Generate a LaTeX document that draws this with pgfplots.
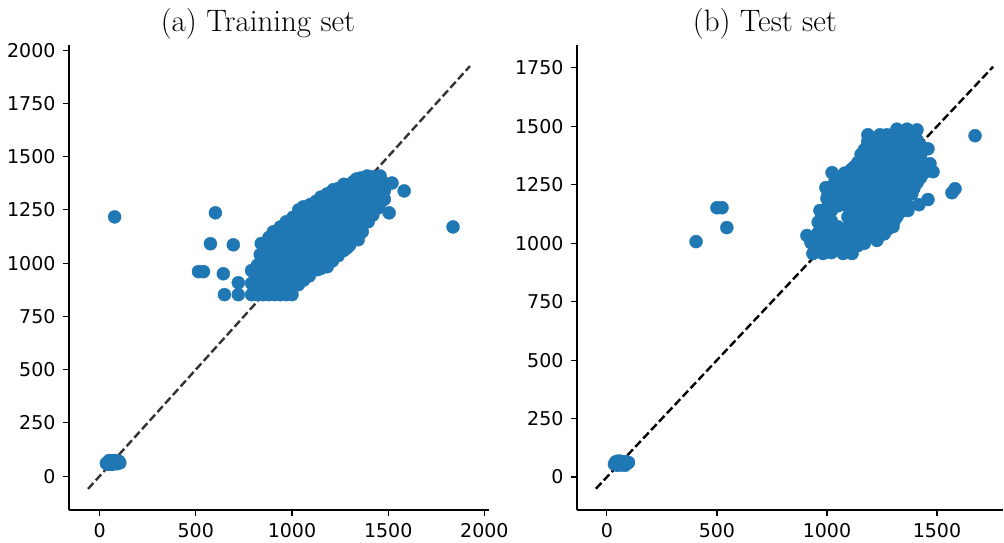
\documentclass[border=0pt]{standalone}
\usepackage{pgfplots}
\pgfplotsset{compat=1.18}
\usepackage{pgfplotstable}
\usepackage{fontspec}
\newfontfamily\dejavu{DejaVu Sans}
\definecolor{tabblue}{HTML}{1F77B4}
\definecolor{dgray}{HTML}{333333}

\pgfplotstableread{
x y
78 1217
602 1236
576 1091
695 1086
514 960
540 960
643 950
649 852
721 852
721 908
790 852
790 905
790 965
820 852
820 900
820 945
820 990
835 1040
850 852
850 895
850 940
850 985
850 1030
840 1092
880 852
880 900
880 945
880 990
880 1035
880 1080
880 1120
910 852
910 900
910 945
910 990
910 1035
910 1080
910 1125
903 1147
940 852
940 900
940 945
940 990
940 1035
940 1080
940 1125
940 1170
970 852
970 900
970 945
970 990
970 1035
970 1080
970 1125
970 1170
970 1194
1000 852
1000 900
1000 945
1000 990
1000 1035
1000 1080
1000 1125
1000 1170
1005 1215
1033 899
1030 945
1030 990
1030 1035
1030 1080
1030 1125
1030 1170
1030 1215
1035 1250
1060 920
1060 965
1060 1010
1060 1055
1060 1100
1060 1145
1060 1190
1060 1235
1059 1264
1090 940
1090 985
1090 1030
1090 1075
1090 1120
1090 1165
1090 1210
1090 1255
1095 1275
1131 969
1120 1005
1120 1050
1120 1095
1120 1140
1120 1185
1120 1230
1120 1275
1125 1290
1150 975
1150 1025
1150 1070
1150 1115
1150 1160
1150 1205
1150 1250
1150 1295
1150 1310
1183 983
1180 1040
1180 1090
1180 1135
1180 1180
1180 1225
1180 1270
1180 1315
1183 1325
1210 1010
1210 1065
1210 1110
1210 1155
1210 1200
1210 1245
1210 1290
1210 1335
1215 1345
1240 1035
1240 1085
1240 1130
1240 1175
1240 1220
1240 1265
1240 1310
1240 1350
1287 1072
1270 1060
1270 1105
1270 1150
1270 1195
1270 1240
1270 1285
1270 1330
1270 1370
1300 1085
1300 1125
1300 1170
1300 1215
1300 1260
1300 1305
1300 1350
1318 1381
1344 1110
1330 1145
1330 1190
1330 1235
1330 1280
1330 1325
1330 1370
1335 1395
1365 1147
1360 1175
1360 1220
1360 1265
1360 1310
1360 1355
1360 1400
1396 1194
1390 1220
1390 1250
1390 1295
1390 1340
1390 1385
1391 1409
1420 1225
1420 1260
1420 1300
1420 1340
1420 1380
1420 1405
1450 1260
1458 1283
1450 1300
1450 1340
1450 1380
1458 1409
1480 1300
1480 1340
1480 1375
1505 1236
1520 1376
1583 1339
1837 1170
35 60
45 55
45 68
55 62
60 72
65 55
70 65
80 60
85 72
90 58
95 66
105 62
50 73
75 73
100 70
}\trainpts

\pgfplotstableread{
x y
405 1007
500 1152
523 1152
545 1067
909 1033
927 1003
936 956
982 956
1073 956
1114 956
960 1000
960 1045
960 1090
968 1140
990 1000
990 1045
990 1090
990 1135
1000 1191
995 1238
1020 960
1020 1005
1020 1050
1020 1095
1020 1140
1020 1185
1020 1230
1023 1302
1050 980
1050 1025
1050 1070
1050 1160
1050 1205
1050 1250
1050 1280
1080 1000
1080 1045
1080 1165
1080 1210
1080 1255
1080 1300
1110 1000
1110 1045
1110 1090
1110 1135
1110 1180
1110 1225
1110 1270
1110 1315
1140 990
1140 1035
1140 1080
1140 1125
1140 1170
1140 1215
1140 1260
1140 1305
1140 1345
1170 1000
1170 1045
1170 1090
1170 1135
1170 1180
1170 1225
1170 1270
1170 1315
1170 1360
1170 1400
1227 1012
1200 1055
1200 1100
1200 1145
1200 1190
1200 1235
1200 1280
1200 1325
1200 1370
1200 1410
1230 1055
1230 1100
1230 1145
1230 1190
1230 1235
1230 1280
1230 1325
1230 1370
1230 1415
1260 1040
1260 1085
1260 1130
1260 1175
1260 1220
1260 1265
1260 1310
1260 1355
1260 1400
1260 1430
1300 1071
1290 1115
1290 1160
1290 1205
1290 1250
1290 1295
1290 1340
1290 1385
1290 1430
1318 1114
1320 1160
1320 1205
1320 1250
1320 1295
1320 1340
1320 1385
1320 1430
1368 1140
1350 1185
1350 1230
1350 1275
1350 1320
1350 1365
1350 1410
1350 1445
1386 1212
1380 1260
1380 1305
1380 1350
1380 1395
1380 1440
1418 1165
1410 1260
1410 1305
1410 1350
1410 1395
1410 1440
1459 1187
1440 1300
1468 1340
1482 1306
1459 1404
1186 1464
1241 1464
1273 1464
1318 1488
1364 1488
1409 1485
1568 1216
1582 1233
1673 1460
975 978
975 1023
975 1068
975 1113
1005 978
1005 1023
1005 1068
1005 1113
1005 1158
1005 1210
1035 990
1035 1035
1035 1170
1035 1215
1035 1260
1065 978
1065 1020
1065 1185
1065 1230
1065 1275
1095 978
1095 1023
1095 1068
1095 1113
1095 1158
1095 1203
1095 1248
1095 1293
1125 1012
1125 1057
1125 1102
1125 1147
1125 1192
1125 1237
1125 1282
1125 1327
1155 1012
1155 1057
1155 1102
1155 1147
1155 1192
1155 1237
1155 1282
1155 1327
1155 1380
1185 1030
1185 1075
1185 1120
1185 1165
1185 1210
1185 1255
1185 1300
1185 1345
1185 1390
1185 1435
1215 1035
1215 1078
1215 1123
1215 1168
1215 1213
1215 1258
1215 1303
1215 1348
1215 1393
1215 1440
1245 1060
1245 1105
1245 1150
1245 1195
1245 1240
1245 1285
1245 1330
1245 1375
1245 1420
1245 1450
1275 1060
1275 1105
1275 1150
1275 1195
1275 1240
1275 1285
1275 1330
1275 1375
1275 1420
1275 1450
1305 1095
1305 1138
1305 1183
1305 1228
1305 1273
1305 1318
1305 1363
1305 1408
1305 1455
1335 1135
1335 1183
1335 1228
1335 1273
1335 1318
1335 1363
1335 1408
1335 1455
1365 1165
1365 1240
1365 1285
1365 1330
1365 1375
1365 1420
1365 1465
1395 1235
1395 1283
1395 1328
1395 1373
1395 1418
1395 1460
1425 1280
1425 1328
1425 1373
1425 1418
34 55
40 65
48 50
55 60
60 68
65 52
72 62
78 56
85 66
90 58
98 62
50 68
82 50
}\testpts

\pgfplotsset{
  myax/.style={
    scale only axis,
    height=465pt,
    axis lines=left,
    axis line style={line width=1.1pt, black, -},
    tick align=outside,
    major tick length=6pt,
    tick style={line width=1.1pt, black},
    ticklabel style={font=\dejavu\fontsize{19}{22}\selectfont},
    yticklabel style={xshift=-4pt},
    xticklabel style={yshift=-4pt},
    /pgf/number format/assume math mode=true,
    /pgf/number format/1000 sep={},
    scaled ticks=false,
    clip=false,
    title style={font=\fontsize{31}{36}\selectfont, anchor=base, yshift=7pt},
  }
}

\begin{document}
\begin{tikzpicture}
\begin{axis}[myax,
  at={(0pt,0pt)}, anchor=south west,
  width=420pt,
  xmin=-159, xmax=2024, ymin=-159, ymax=2024,
  xtick={0,500,1000,1500,2000},
  ytick={0,250,500,750,1000,1250,1500,1750,2000},
  title={(a) Training set},
  title style={at={(0.45,1)}},
]
\addplot[only marks, mark=*, mark size=6.5pt, color=tabblue, mark options={draw=tabblue, fill=tabblue}] table[x=x, y=y] {\trainpts};
\addplot[dgray, line width=2.4pt, dash pattern=on 8pt off 3.5pt] coordinates {(-60,-60) (1925,1925)};
\end{axis}
\begin{axis}[myax,
  at={(508pt,0pt)}, anchor=south west,
  width=426pt,
  xmin=-136, xmax=1800, ymin=-141, ymax=1848,
  xtick={0,500,1000,1500},
  ytick={0,250,500,750,1000,1250,1500,1750},
  title={(b) Test set},
  title style={at={(0.441,1)}},
]
\addplot[only marks, mark=*, mark size=6.5pt, color=tabblue, mark options={draw=tabblue, fill=tabblue}] table[x=x, y=y] {\testpts};
\addplot[black, line width=2.4pt, dash pattern=on 8pt off 3.5pt] coordinates {(-50,-50) (1755,1755)};
\end{axis}
\pgfresetboundingbox
\path[use as bounding box] (-69pt,-33pt) rectangle (935pt,510pt);
\end{tikzpicture}
\end{document}
